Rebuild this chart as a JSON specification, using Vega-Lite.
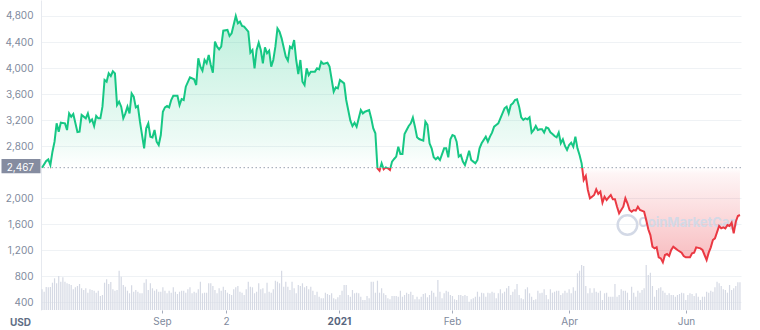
{
"$schema": "https://vega.github.io/schema/vega-lite/v6.json",
"width": 700,
"height": 310,
"autosize": {"type": "none"},
"padding": {"left": 41, "top": 0, "right": 19, "bottom": 20},
"background": "white",
"config": {"view": {"stroke": null}, "font": "Inter"},
"datasets": {
"vol": [
{"d":0,"v":2.07},{"d":1,"v":1.83},{"d":2,"v":2.3},{"d":3,"v":2.27},{"d":4,"v":2.3},{"d":5,"v":2.73},{"d":6,"v":3.17},{"d":7,"v":2.67},{"d":8,"v":3.4},{"d":9,"v":2.83},
{"d":10,"v":3.27},{"d":11,"v":2.83},{"d":12,"v":2.67},{"d":13,"v":2.6},{"d":14,"v":2.5},{"d":15,"v":2.07},{"d":16,"v":2.27},{"d":17,"v":2.4},{"d":18,"v":2.6},{"d":19,"v":2.17},
{"d":20,"v":2.0},{"d":21,"v":2.17},{"d":22,"v":1.73},{"d":23,"v":2.07},{"d":24,"v":2.0},{"d":25,"v":1.93},{"d":26,"v":1.73},{"d":27,"v":1.93},{"d":28,"v":1.4},{"d":29,"v":1.5},
{"d":30,"v":2.73},{"d":31,"v":3.07},{"d":32,"v":2.6},{"d":33,"v":2.8},{"d":34,"v":2.07},{"d":35,"v":1.93},{"d":36,"v":2.0},{"d":37,"v":3.93},{"d":38,"v":3.33},{"d":39,"v":2.5},
{"d":40,"v":2.33},{"d":41,"v":1.93},{"d":42,"v":1.67},{"d":43,"v":2.47},{"d":44,"v":1.83},{"d":45,"v":2.0},{"d":46,"v":1.83},{"d":47,"v":1.67},{"d":48,"v":1.67},{"d":49,"v":2.73},
{"d":50,"v":3.07},{"d":51,"v":2.0},{"d":52,"v":2.67},{"d":53,"v":2.17},{"d":54,"v":1.93},{"d":55,"v":2.07},{"d":56,"v":1.83},{"d":57,"v":1.83},{"d":58,"v":2.27},{"d":59,"v":1.93},
{"d":60,"v":1.67},{"d":61,"v":1.93},{"d":62,"v":1.73},{"d":63,"v":2.27},{"d":64,"v":1.83},{"d":65,"v":1.6},{"d":66,"v":1.83},{"d":67,"v":1.93},{"d":68,"v":1.93},{"d":69,"v":1.73},
{"d":70,"v":2.07},{"d":71,"v":2.27},{"d":72,"v":1.67},{"d":73,"v":1.83},{"d":74,"v":1.73},{"d":75,"v":2.07},{"d":76,"v":2.83},{"d":77,"v":1.67},{"d":78,"v":1.73},{"d":79,"v":1.73},
{"d":80,"v":2.67},{"d":81,"v":2.67},{"d":82,"v":2.4},{"d":83,"v":2.0},{"d":84,"v":1.67},{"d":85,"v":2.17},{"d":86,"v":1.93},{"d":87,"v":2.33},{"d":88,"v":2.0},{"d":89,"v":1.73},
{"d":90,"v":1.6},{"d":91,"v":1.5},{"d":92,"v":2.07},{"d":93,"v":2.27},{"d":94,"v":2.4},{"d":95,"v":1.83},{"d":96,"v":1.73},{"d":97,"v":1.5},{"d":98,"v":2.07},{"d":99,"v":2.83},
{"d":100,"v":2.33},{"d":101,"v":2.27},{"d":102,"v":1.67},{"d":103,"v":1.83},{"d":104,"v":2.67},{"d":105,"v":2.07},{"d":106,"v":2.17},{"d":107,"v":1.67},{"d":108,"v":2.73},{"d":109,"v":1.83},
{"d":110,"v":1.73},{"d":111,"v":2.07},{"d":112,"v":2.93},{"d":113,"v":2.83},{"d":114,"v":2.67},{"d":115,"v":3.93},{"d":116,"v":2.33},{"d":117,"v":2.83},{"d":118,"v":2.33},{"d":119,"v":2.0},
{"d":120,"v":2.83},{"d":121,"v":2.17},{"d":122,"v":1.67},{"d":123,"v":2.5},{"d":124,"v":2.4},{"d":125,"v":2.67},{"d":126,"v":2.27},{"d":127,"v":2.4},{"d":128,"v":2.07},{"d":129,"v":2.33},
{"d":130,"v":1.93},{"d":131,"v":1.5},{"d":132,"v":1.83},{"d":133,"v":1.33},{"d":134,"v":1.17},{"d":135,"v":1.17},{"d":136,"v":1.73},{"d":137,"v":1.6},{"d":138,"v":1.5},{"d":139,"v":1.67},
{"d":140,"v":1.17},{"d":141,"v":1.07},{"d":142,"v":1.27},{"d":143,"v":1.5},{"d":144,"v":1.93},{"d":145,"v":2.5},{"d":146,"v":2.5},{"d":147,"v":1.5},{"d":148,"v":1.33},{"d":149,"v":2.0},
{"d":150,"v":1.67},{"d":151,"v":1.73},{"d":152,"v":1.67},{"d":153,"v":1.33},{"d":154,"v":1.0},{"d":155,"v":1.0},{"d":156,"v":1.4},{"d":157,"v":1.17},{"d":158,"v":2.83},{"d":159,"v":2.83},
{"d":160,"v":1.73},{"d":161,"v":2.93},{"d":162,"v":1.73},{"d":163,"v":2.17},{"d":164,"v":1.67},{"d":165,"v":1.5},{"d":166,"v":1.17},{"d":167,"v":1.07},{"d":168,"v":1.4},{"d":169,"v":1.4},
{"d":170,"v":1.4},{"d":171,"v":1.33},{"d":172,"v":1.93},{"d":173,"v":1.33},{"d":174,"v":1.5},{"d":175,"v":1.73},{"d":176,"v":1.6},{"d":177,"v":1.83},{"d":178,"v":1.5},{"d":179,"v":1.07},
{"d":180,"v":1.33},{"d":181,"v":1.07},{"d":182,"v":1.33},{"d":183,"v":1.6},{"d":184,"v":1.67},{"d":185,"v":1.27},{"d":186,"v":1.5},{"d":187,"v":1.93},{"d":188,"v":1.73},{"d":189,"v":1.33},
{"d":190,"v":3.0},{"d":191,"v":1.83},{"d":192,"v":1.17},{"d":193,"v":1.67},{"d":194,"v":1.93},{"d":195,"v":1.83},{"d":196,"v":1.5},{"d":197,"v":1.4},{"d":198,"v":1.07},{"d":199,"v":1.0},
{"d":200,"v":1.5},{"d":201,"v":1.5},{"d":202,"v":1.4},{"d":203,"v":1.5},{"d":204,"v":1.4},{"d":205,"v":0.83},{"d":206,"v":1.07},{"d":207,"v":1.17},{"d":208,"v":1.33},{"d":209,"v":1.83},
{"d":210,"v":1.33},{"d":211,"v":1.73},{"d":212,"v":1.67},{"d":213,"v":1.33},{"d":214,"v":1.73},{"d":215,"v":1.67},{"d":216,"v":1.83},{"d":217,"v":1.73},{"d":218,"v":1.17},{"d":219,"v":1.67},
{"d":220,"v":2.07},{"d":221,"v":1.67},{"d":222,"v":1.83},{"d":223,"v":2.17},{"d":224,"v":2.4},{"d":225,"v":1.5},{"d":226,"v":1.83},{"d":227,"v":2.07},{"d":228,"v":2.6},{"d":229,"v":1.5},
{"d":230,"v":1.17},{"d":231,"v":1.07},{"d":232,"v":2.07},{"d":233,"v":2.27},{"d":234,"v":1.67},{"d":235,"v":1.33},{"d":236,"v":1.0},{"d":237,"v":1.07},{"d":238,"v":1.93},{"d":239,"v":1.67},
{"d":240,"v":1.73},{"d":241,"v":2.07},{"d":242,"v":1.5},{"d":243,"v":1.07},{"d":244,"v":2.07},{"d":245,"v":1.73},{"d":246,"v":1.83},{"d":247,"v":1.93},{"d":248,"v":1.93},{"d":249,"v":1.5},
{"d":250,"v":1.67},{"d":251,"v":1.93},{"d":252,"v":1.73},{"d":253,"v":2.07},{"d":254,"v":1.67},{"d":255,"v":2.27},{"d":256,"v":1.93},{"d":257,"v":3.67},{"d":258,"v":3.93},{"d":259,"v":4.5},
{"d":260,"v":4.4},{"d":261,"v":2.4},{"d":262,"v":1.67},{"d":263,"v":2.17},{"d":264,"v":1.73},{"d":265,"v":2.17},{"d":266,"v":1.83},{"d":267,"v":1.73},{"d":268,"v":1.93},{"d":269,"v":1.0},
{"d":270,"v":1.67},{"d":271,"v":1.73},{"d":272,"v":1.33},{"d":273,"v":1.33},{"d":274,"v":1.33},{"d":275,"v":2.6},{"d":276,"v":1.33},{"d":277,"v":1.5},{"d":278,"v":2.07},{"d":279,"v":1.93},
{"d":280,"v":1.93},{"d":281,"v":1.73},{"d":282,"v":1.0},{"d":283,"v":2.33},{"d":284,"v":1.73},{"d":285,"v":1.33},{"d":286,"v":1.93},{"d":287,"v":1.73},{"d":288,"v":2.0},{"d":289,"v":2.17},
{"d":290,"v":4.5},{"d":291,"v":3.5},{"d":292,"v":3.73},{"d":293,"v":2.4},{"d":294,"v":1.33},{"d":295,"v":2.0},{"d":296,"v":2.17},{"d":297,"v":2.27},{"d":298,"v":1.93},{"d":299,"v":1.73},
{"d":300,"v":1.5},{"d":301,"v":1.67},{"d":302,"v":1.5},{"d":303,"v":1.5},{"d":304,"v":1.33},{"d":305,"v":1.5},{"d":306,"v":1.6},{"d":307,"v":1.73},{"d":308,"v":1.67},{"d":309,"v":1.0},
{"d":310,"v":1.5},{"d":311,"v":1.67},{"d":312,"v":1.6},{"d":313,"v":1.4},{"d":314,"v":1.67},{"d":315,"v":1.33},{"d":316,"v":1.0},{"d":317,"v":1.33},{"d":318,"v":1.33},{"d":319,"v":1.83},
{"d":320,"v":1.73},{"d":321,"v":1.93},{"d":322,"v":1.83},{"d":323,"v":2.27},{"d":324,"v":2.83},{"d":325,"v":2.67},{"d":326,"v":2.4},{"d":327,"v":2.07},{"d":328,"v":2.0},{"d":329,"v":1.73},
{"d":330,"v":2.5},{"d":331,"v":2.0},{"d":332,"v":2.17},{"d":333,"v":2.4},{"d":334,"v":2.77},{"d":335,"v":2.77}
],
"price": [
{"d":0,"p":2467},{"d":2,"p":2569},{"d":3,"p":2595},{"d":4,"p":2508},{"d":5,"p":2713},{"d":6,"p":2867},{"d":7,"p":3149},{"d":8,"p":3021},{"d":9,"p":3159},{"d":11,"p":3149},
{"d":12,"p":3046},{"d":13,"p":3302},{"d":14,"p":3251},{"d":15,"p":3292},{"d":17,"p":3015},{"d":18,"p":3021},{"d":19,"p":3277},{"d":21,"p":3226},{"d":22,"p":3302},{"d":23,"p":3174},
{"d":24,"p":3210},{"d":25,"p":3108},{"d":26,"p":3262},{"d":27,"p":3226},{"d":28,"p":3226},{"d":29,"p":3405},{"d":30,"p":3815},{"d":31,"p":3790},{"d":32,"p":3918},{"d":33,"p":3877},
{"d":34,"p":3949},{"d":35,"p":3918},{"d":36,"p":3431},{"d":37,"p":3482},{"d":38,"p":3405},{"d":39,"p":3226},{"d":40,"p":3302},{"d":41,"p":3405},{"d":42,"p":3302},{"d":43,"p":3610},
{"d":44,"p":3559},{"d":45,"p":3395},{"d":46,"p":3415},{"d":47,"p":3174},{"d":49,"p":2764},{"d":50,"p":3072},{"d":51,"p":3149},{"d":52,"p":2944},{"d":53,"p":2933},{"d":54,"p":3046},
{"d":55,"p":2867},{"d":56,"p":2815},{"d":57,"p":2969},{"d":58,"p":3328},{"d":59,"p":3395},{"d":60,"p":3415},{"d":61,"p":3395},{"d":62,"p":3508},{"d":63,"p":3574},{"d":65,"p":3574},
{"d":66,"p":3431},{"d":67,"p":3523},{"d":68,"p":3508},{"d":69,"p":3713},{"d":71,"p":3856},{"d":73,"p":3826},{"d":74,"p":3738},{"d":75,"p":4149},{"d":76,"p":4021},{"d":77,"p":3959},
{"d":78,"p":4123},{"d":79,"p":4072},{"d":80,"p":4200},{"d":81,"p":4046},{"d":82,"p":3928},{"d":83,"p":4405},{"d":84,"p":4328},{"d":85,"p":4287},{"d":86,"p":4328},{"d":87,"p":4574},
{"d":89,"p":4585},{"d":90,"p":4492},{"d":91,"p":4533},{"d":93,"p":4800},{"d":94,"p":4687},{"d":95,"p":4713},{"d":96,"p":4646},{"d":97,"p":4636},{"d":99,"p":4559},{"d":100,"p":4236},
{"d":101,"p":4277},{"d":102,"p":3995},{"d":103,"p":4277},{"d":104,"p":4390},{"d":105,"p":4277},{"d":106,"p":4072},{"d":107,"p":4318},{"d":108,"p":4226},{"d":109,"p":4267},{"d":110,"p":4021},
{"d":111,"p":4123},{"d":112,"p":4328},{"d":113,"p":4610},{"d":114,"p":4559},{"d":115,"p":4456},{"d":117,"p":4174},{"d":118,"p":4113},{"d":119,"p":4328},{"d":120,"p":4303},{"d":121,"p":4431},
{"d":122,"p":4123},{"d":123,"p":3908},{"d":124,"p":4123},{"d":125,"p":3790},{"d":126,"p":3738},{"d":127,"p":3995},{"d":128,"p":3892},{"d":129,"p":3944},{"d":131,"p":3944},{"d":132,"p":3995},
{"d":133,"p":3980},{"d":134,"p":4097},{"d":135,"p":4062},{"d":137,"p":4082},{"d":138,"p":4021},{"d":140,"p":3636},{"d":141,"p":3703},{"d":142,"p":3687},{"d":143,"p":3815},{"d":145,"p":3764},
{"d":146,"p":3508},{"d":148,"p":3190},{"d":149,"p":3108},{"d":150,"p":3159},{"d":151,"p":3097},{"d":153,"p":3354},{"d":154,"p":3302},{"d":155,"p":3328},{"d":157,"p":3354},{"d":158,"p":3226},
{"d":159,"p":3072},{"d":160,"p":2996},{"d":161,"p":2457},{"d":162,"p":2421},{"d":163,"p":2534},{"d":164,"p":2442},{"d":165,"p":2472},{"d":166,"p":2457},{"d":167,"p":2431},{"d":168,"p":2560},
{"d":169,"p":2601},{"d":170,"p":2637},{"d":171,"p":2790},{"d":172,"p":2678},{"d":173,"p":2678},{"d":174,"p":2985},{"d":175,"p":3047},{"d":176,"p":3108},{"d":177,"p":3149},{"d":178,"p":3237},
{"d":179,"p":3098},{"d":180,"p":2934},{"d":181,"p":2908},{"d":183,"p":2883},{"d":184,"p":3175},{"d":185,"p":3124},{"d":186,"p":2842},{"d":187,"p":2765},{"d":188,"p":2626},{"d":189,"p":2596},
{"d":190,"p":2626},{"d":191,"p":2585},{"d":193,"p":2765},{"d":194,"p":2765},{"d":195,"p":2626},{"d":196,"p":2903},{"d":197,"p":2970},{"d":198,"p":2954},{"d":199,"p":2867},{"d":200,"p":2637},
{"d":201,"p":2662},{"d":202,"p":2560},{"d":203,"p":2508},{"d":204,"p":2611},{"d":205,"p":2729},{"d":206,"p":2585},{"d":207,"p":2560},{"d":208,"p":2534},{"d":209,"p":2585},{"d":210,"p":2765},
{"d":211,"p":2842},{"d":213,"p":2944},{"d":214,"p":2867},{"d":215,"p":2944},{"d":216,"p":3006},{"d":217,"p":3098},{"d":218,"p":3124},{"d":219,"p":3149},{"d":221,"p":3303},{"d":222,"p":3380},
{"d":223,"p":3406},{"d":224,"p":3303},{"d":225,"p":3431},{"d":226,"p":3457},{"d":227,"p":3508},{"d":228,"p":3519},{"d":229,"p":3406},{"d":230,"p":3242},{"d":231,"p":3201},{"d":232,"p":3226},
{"d":233,"p":3211},{"d":234,"p":3242},{"d":235,"p":3006},{"d":236,"p":3047},{"d":237,"p":3108},{"d":238,"p":3047},{"d":239,"p":3057},{"d":240,"p":3057},{"d":241,"p":3006},{"d":242,"p":3088},
{"d":243,"p":3072},{"d":244,"p":3011},{"d":245,"p":2985},{"d":246,"p":2954},{"d":247,"p":2934},{"d":248,"p":3006},{"d":249,"p":2842},{"d":250,"p":2903},{"d":251,"p":2801},{"d":252,"p":2739},
{"d":253,"p":2816},{"d":254,"p":2852},{"d":255,"p":2790},{"d":256,"p":2944},{"d":257,"p":2765},{"d":258,"p":2662},{"d":259,"p":2534},{"d":260,"p":2278},{"d":261,"p":2339},{"d":262,"p":2124},
{"d":263,"p":1996},{"d":264,"p":2021},{"d":265,"p":2047},{"d":266,"p":2134},{"d":267,"p":2062},{"d":268,"p":2098},{"d":269,"p":1929},{"d":270,"p":2021},{"d":271,"p":1970},{"d":272,"p":2011},
{"d":273,"p":2047},{"d":274,"p":1980},{"d":275,"p":1980},{"d":276,"p":1867},{"d":277,"p":1765},{"d":278,"p":1816},{"d":279,"p":1867},{"d":280,"p":1996},{"d":281,"p":1919},{"d":282,"p":1816},
{"d":283,"p":1790},{"d":284,"p":1816},{"d":285,"p":1806},{"d":286,"p":1867},{"d":287,"p":1816},{"d":289,"p":1790},{"d":290,"p":1662},{"d":291,"p":1519},{"d":292,"p":1431},{"d":293,"p":1252},
{"d":294,"p":1226},{"d":295,"p":1242},{"d":296,"p":1088},{"d":297,"p":1072},{"d":298,"p":1010},{"d":299,"p":1124},{"d":300,"p":1139},{"d":301,"p":1108},{"d":302,"p":1201},{"d":303,"p":1252},
{"d":304,"p":1226},{"d":305,"p":1201},{"d":307,"p":1160},{"d":308,"p":1108},{"d":309,"p":1088},{"d":311,"p":1088},{"d":312,"p":1149},{"d":313,"p":1160},{"d":314,"p":1242},{"d":316,"p":1226},
{"d":317,"p":1201},{"d":318,"p":1124},{"d":319,"p":1047},{"d":320,"p":1160},{"d":321,"p":1242},{"d":322,"p":1354},{"d":323,"p":1380},{"d":325,"p":1570},{"d":326,"p":1534},{"d":327,"p":1550},
{"d":328,"p":1534},{"d":329,"p":1585},{"d":330,"p":1570},{"d":331,"p":1621},{"d":332,"p":1457},{"d":333,"p":1637},{"d":334,"p":1724},{"d":335,"p":1739}
],
"one": [{}]
},
"layer": [
{
"data": {"name": "price"},
"mark": {"type": "area", "fill": {"gradient": "linear", "x1": 0, "y1": 0, "x2": 0, "y2": 1, "stops": [
{"offset": 0, "color": "rgba(22,199,132,0.28)"},
{"offset": 0.5, "color": "rgba(22,199,132,0.08)"},
{"offset": 0.6156, "color": "rgba(22,199,132,0.0)"},
{"offset": 0.6156, "color": "rgba(234,57,67,0.0)"},
{"offset": 0.64, "color": "rgba(234,57,67,0.05)"},
{"offset": 1, "color": "rgba(234,57,67,0.34)"}]}},
"encoding": {
"x": {"field": "d", "type": "quantitative", "scale": {"domain": [-0.5, 335.5], "nice": false, "zero": false, "padding": 0},
"axis": {"orient": "bottom", "title": null, "values": [57.6, 88.3, 196.8, 253.0, 309.1],
"labelExpr": "datum.value < 70 ? 'Sep' : datum.value < 100 ? '2' : datum.value < 220 ? 'Feb' : datum.value < 280 ? 'Apr' : 'Jun'",
"domain": false, "grid": false, "ticks": true, "tickSize": 3, "tickColor": "#a6adbd",
"labelFont": "Inter", "labelFontSize": 10, "labelPadding": 3, "labelFlush": false, "labelOverlap": false,
"labelColor": "#808a9d"}},
"y": {"field": "p", "type": "quantitative", "scale": {"domain": [278, 5046], "nice": false, "zero": false},
"axis": {"orient": "left", "values": [400, 800, 1200, 1600, 2000, 2800, 3200, 3600, 4000, 4400, 4800], "format": ",d",
"grid": true, "gridColor": "#eff2f5", "ticks": false, "domain": true, "domainColor": "#e6e9ef",
"labelColor": "#808a9d", "labelFont": "Inter", "labelFontSize": 10, "labelPadding": 8,
"title": "USD", "titleAngle": 0, "titleX": -21, "titleY": 322, "titleAlign": "center", "titleBaseline": "middle",
"titleFont": "Inter", "titleFontWeight": "bold", "titleFontSize": 10, "titleColor": "#616e85"}},
"y2": {"datum": 2467}
}
},
{
"data": {"name": "vol"},
"mark": {"type": "bar", "width": 1.2, "color": "#d5d9e4"},
"encoding": {
"x": {"field": "d", "type": "quantitative",
"axis": {"orient": "bottom", "title": null, "values": [142.5], "labelExpr": "'2021'",
"domain": false, "grid": false, "ticks": true, "tickSize": 3, "tickColor": "#a6adbd",
"labelFont": "Inter", "labelFontSize": 10, "labelPadding": 3, "labelFlush": false, "labelOverlap": false,
"labelColor": "#58667e", "labelFontWeight": "bold"}},
"y": {"field": "v", "type": "quantitative", "scale": {"domain": [0, 31], "nice": false}, "axis": null}
}
},
{
"data": {"name": "one"},
"mark": {"type": "text", "text": "CoinMarketCap", "fontSize": 13, "fontWeight": "bold", "color": "#d3d9e6", "font": "Inter", "align": "center", "baseline": "middle"},
"encoding": {
"x": {"datum": 310, "type": "quantitative", "axis": null},
"y": {"datum": 1616, "type": "quantitative", "scale": {"domain": [278, 5046], "nice": false, "zero": false}, "axis": null}
}
},
{
"data": {"name": "one"},
"mark": {"type": "point", "shape": "circle", "size": 380, "filled": false, "strokeWidth": 2.5, "color": "#d3d9e6", "opacity": 1},
"encoding": {
"x": {"datum": 281, "type": "quantitative", "axis": null},
"y": {"datum": 1585, "type": "quantitative", "scale": {"domain": [278, 5046], "nice": false, "zero": false}, "axis": null}
}
},
{
"data": {"name": "price"},
"mark": {"type": "line", "strokeWidth": 2, "stroke": {"gradient": "linear", "x1": 0, "y1": 0, "x2": 0, "y2": 1, "stops": [
{"offset": 0, "color": "#16c784"},
{"offset": 0.6156, "color": "#16c784"},
{"offset": 0.6156, "color": "#ea3943"},
{"offset": 1, "color": "#ea3943"}]}},
"encoding": {
"x": {"field": "d", "type": "quantitative", "axis": null},
"y": {"field": "p", "type": "quantitative", "scale": {"domain": [278, 5046], "nice": false, "zero": false}, "axis": null}
}
},
{
"data": {"name": "one"},
"mark": {"type": "rule", "strokeDash": [1.5, 2.5], "color": "#9aa2b1", "strokeWidth": 1},
"encoding": {
"y": {"datum": 2467, "type": "quantitative", "scale": {"domain": [278, 5046], "nice": false, "zero": false}, "axis": null}
}
},
{
"data": {"name": "one"},
"mark": {"type": "rect", "color": "#858ca0"},
"encoding": {
"x": {"value": -39.5}, "x2": {"value": -0.5},
"y": {"datum": 2601, "type": "quantitative", "scale": {"domain": [278, 5046], "nice": false, "zero": false}, "axis": null},
"y2": {"datum": 2381}
}
},
{
"data": {"name": "one"},
"mark": {"type": "text", "align": "right", "baseline": "middle", "color": "#ffffff", "fontSize": 10, "font": "Inter", "text": "2,467"},
"encoding": {
"x": {"value": -7},
"y": {"datum": 2467, "type": "quantitative", "scale": {"domain": [278, 5046], "nice": false, "zero": false}, "axis": null}
}
}
],
"resolve": {"scale": {"y": "independent"}, "axis": {"x": "independent"}}
}
